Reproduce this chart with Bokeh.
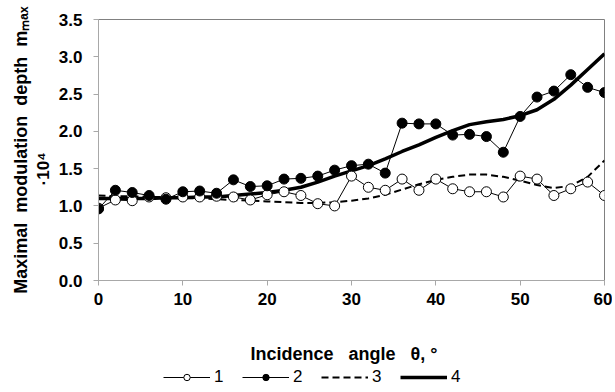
from bokeh.plotting import figure
from bokeh.layouts import column
from bokeh.models import (Legend, LegendItem, Range1d, FixedTicker, ColumnDataSource,
                          LinearAxis)
from bokeh.embed import file_html
from bokeh.resources import INLINE

# ---- data ----
angle = [0, 2, 4, 6, 8, 10, 12, 14, 16, 18, 20, 22, 24, 26, 28, 30,
         32, 34, 36, 38, 40, 42, 44, 46, 48, 50, 52, 54, 56, 58, 60]
series1 = [0.97, 1.08, 1.07, 1.12, 1.11, 1.12, 1.12, 1.13, 1.12, 1.08, 1.15,
           1.19, 1.14, 1.03, 1.00, 1.40, 1.25, 1.21, 1.36, 1.21, 1.36, 1.23,
           1.19, 1.19, 1.12, 1.40, 1.36, 1.14, 1.23, 1.32, 1.14]
series2 = [0.96, 1.21, 1.18, 1.14, 1.09, 1.19, 1.20, 1.17, 1.35, 1.26, 1.27,
           1.36, 1.37, 1.40, 1.48, 1.54, 1.56, 1.44, 2.11, 2.10, 2.10, 1.95,
           1.96, 1.93, 1.72, 2.20, 2.46, 2.54, 2.76, 2.59, 2.52]
series3 = [1.14, 1.13, 1.13, 1.12, 1.12, 1.11, 1.10, 1.09, 1.08, 1.07, 1.06,
           1.05, 1.04, 1.04, 1.05, 1.07, 1.10, 1.15, 1.22, 1.29, 1.35, 1.39,
           1.42, 1.42, 1.39, 1.34, 1.28, 1.24, 1.27, 1.39, 1.61]
series4 = [1.10, 1.10, 1.10, 1.10, 1.11, 1.11, 1.12, 1.12, 1.14, 1.16, 1.18,
           1.21, 1.25, 1.32, 1.40, 1.47, 1.54, 1.63, 1.73, 1.82, 1.92, 2.01,
           2.09, 2.13, 2.16, 2.21, 2.29, 2.43, 2.62, 2.83, 3.04]
labels = ["1", "2", "3", "4"]
x_ticks = [0, 10, 20, 30, 40, 50, 60]
y_ticks = [0.0, 0.5, 1.0, 1.5, 2.0, 2.5, 3.0, 3.5]

FONT = "Liberation Sans"
NB = "\u00a0"

src = ColumnDataSource(dict(x=angle, s1=series1, s2=series2, s3=series3, s4=series4))

p = figure(width=612, height=366, output_backend="svg", toolbar_location=None,
           x_range=Range1d(0, 60), y_range=Range1d(0, 3.5),
           min_border_left=98, min_border_right=8, min_border_top=19,
           min_border_bottom=85)
p.background_fill_color = "white"
p.border_fill_color = "white"
p.outline_line_color = "#808080"
p.grid.visible = False

r4 = p.line("x", "s4", source=src, line_color="black", line_width=3.5)
r3 = p.line("x", "s3", source=src, line_color="black", line_width=2, line_dash="7 4")
r1l = p.line("x", "s1", source=src, line_color="black", line_width=1)
r1m = p.scatter("x", "s1", source=src, size=10, fill_color="white", line_color="black", line_width=1)
r2l = p.line("x", "s2", source=src, line_color="black", line_width=1)
r2m = p.scatter("x", "s2", source=src, size=10, fill_color="black", line_color="black", line_width=1)

for ax in (p.xaxis[0], p.yaxis[0]):
    ax.axis_line_color = "#a8a8a8"
    ax.major_tick_line_color = "#a8a8a8"
    ax.minor_tick_line_color = None
    ax.major_tick_out = 5
    ax.major_tick_in = 0
    ax.major_label_text_font = FONT
    ax.major_label_text_font_style = "bold"
    ax.major_label_text_font_size = "17px"
    ax.major_label_text_color = "black"
    ax.axis_label_text_font = FONT
    ax.axis_label_text_font_style = "bold"
    ax.axis_label_text_font_size = "18px"
    ax.axis_label_text_color = "black"

p.xaxis.ticker = FixedTicker(ticks=x_ticks)
p.yaxis.ticker = FixedTicker(ticks=y_ticks)
p.yaxis.major_label_overrides = {t: f"{t:.1f}" for t in y_ticks}
p.xaxis.major_label_standoff = 7
p.yaxis.major_label_standoff = 11

p.xaxis.axis_label = "Incidence" + NB * 2 + " angle" + NB * 2 + " θ, °" + NB * 3
p.xaxis.axis_label_standoff = 36

# inner y label line: "·10⁴"
p.yaxis.axis_label = "·10⁴" + NB * 8
p.yaxis.axis_label_text_font_size = "17px"
p.yaxis.axis_label_standoff = 3

# outer y label line
outer = LinearAxis(ticker=FixedTicker(ticks=[]), axis_line_color=None,
                   major_tick_line_color=None, minor_tick_line_color=None,
                   major_tick_out=0, major_label_standoff=0,
                   axis_label=("Maximal" + NB + " modulation" + NB + " depth" + NB +
                               " mₘₐₓ"),
                   axis_label_standoff=0,
                   axis_label_text_font=FONT, axis_label_text_font_style="bold",
                   axis_label_text_font_size="18px", axis_label_text_color="black")
p.add_layout(outer, "left")

# legend strip below the chart (its glyphs use the real data but lie out of view)
lp = figure(width=612, height=24, output_backend="svg", toolbar_location=None,
            x_range=Range1d(0, 60), y_range=Range1d(10, 11),
            x_axis_type=None, y_axis_type=None, min_border=0)
lp.outline_line_color = None
lp.grid.visible = False
l4 = lp.line("x", "s4", source=src, line_color="black", line_width=3.5)
l3 = lp.line("x", "s3", source=src, line_color="black", line_width=2, line_dash="7 4")
l1a = lp.line("x", "s1", source=src, line_color="black", line_width=1)
l1b = lp.scatter("x", "s1", source=src, fill_color="white", line_color="black")
l2a = lp.line("x", "s2", source=src, line_color="black", line_width=1)
l2b = lp.scatter("x", "s2", source=src, fill_color="black", line_color="black")

legend = Legend(items=[
    LegendItem(label=labels[0], renderers=[l1a, l1b]),
    LegendItem(label=labels[1], renderers=[l2a, l2b]),
    LegendItem(label=labels[2], renderers=[l3]),
    LegendItem(label=labels[3], renderers=[l4]),
], orientation="horizontal", location=(65, 3))
legend.glyph_width = 47
legend.glyph_height = 16
legend.label_standoff = 4
legend.label_width = 10
legend.label_height = 18
legend.spacing = 18
legend.padding = 0
legend.margin = 0
legend.border_line_color = None
legend.background_fill_alpha = 0
legend.label_text_font = FONT
legend.label_text_font_size = "17px"
legend.label_text_color = "black"
lp.add_layout(legend)

layout = column(p, lp, spacing=0)
open("out.html", "w").write(file_html(layout, INLINE))
